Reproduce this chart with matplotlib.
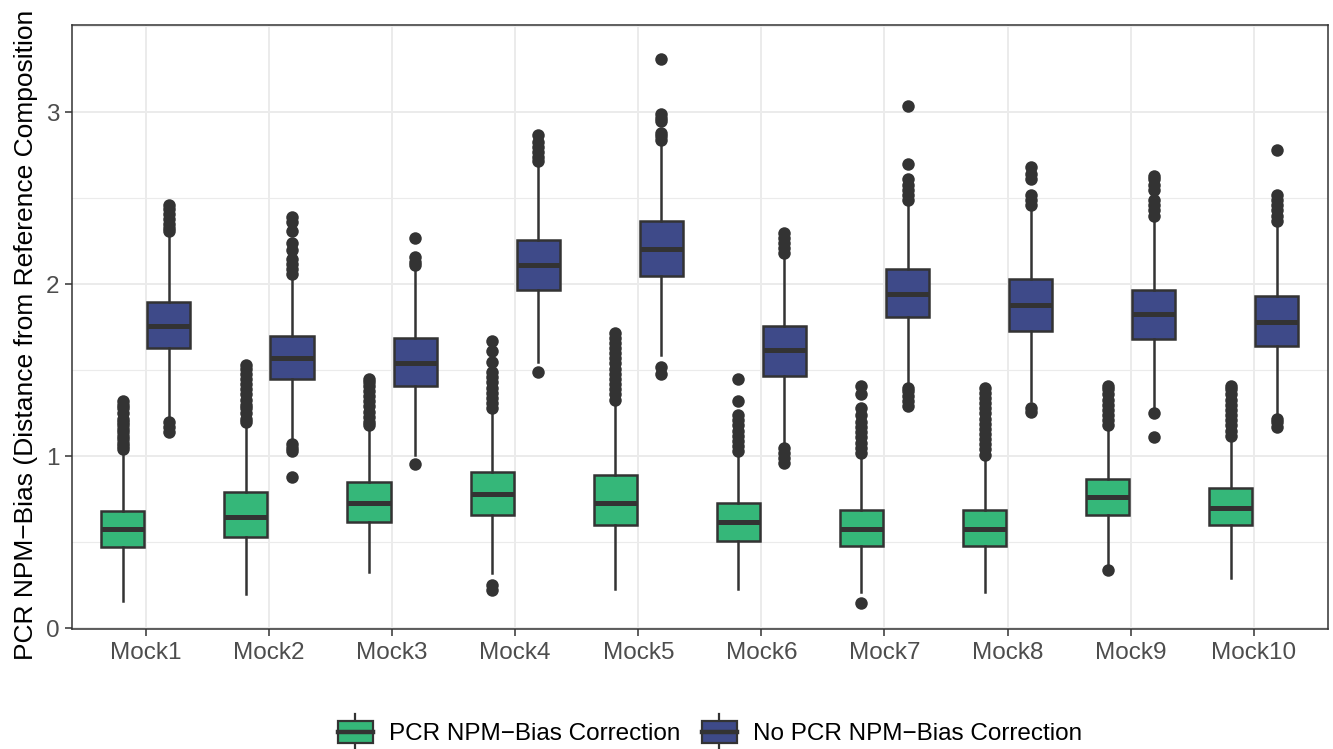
import matplotlib.pyplot as plt
import numpy as np
from matplotlib.patches import Rectangle
from matplotlib.lines import Line2D
from matplotlib.legend_handler import HandlerBase

plt.rcParams['font.family'] = ['Liberation Sans', 'DejaVu Sans']

# --- DATA --- #
mocks = ["Mock1", "Mock2", "Mock3", "Mock4", "Mock5",
         "Mock6", "Mock7", "Mock8", "Mock9", "Mock10"]
series = ["PCR NPM\u2212Bias Correction", "No PCR NPM\u2212Bias Correction"]

# PCR NPM-Bias correction (green)
corr_q1 = [0.47, 0.53, 0.62, 0.66, 0.60, 0.51, 0.48, 0.48, 0.66, 0.60]
corr_med = [0.58, 0.65, 0.73, 0.78, 0.73, 0.62, 0.58, 0.58, 0.765, 0.70]
corr_q3 = [0.685, 0.79, 0.85, 0.91, 0.89, 0.73, 0.69, 0.69, 0.87, 0.815]
corr_lo = [0.16, 0.20, 0.33, 0.32, 0.23, 0.23, 0.21, 0.21, 0.37, 0.29]
corr_hi = [1.02, 1.18, 1.16, 1.26, 1.30, 1.01, 1.00, 0.99, 1.16, 1.10]
corr_fliers = [
    [1.04, 1.06, 1.08, 1.10, 1.12, 1.14, 1.16, 1.18, 1.20, 1.22, 1.25, 1.28, 1.30, 1.32],
    [1.20, 1.22, 1.25, 1.28, 1.30, 1.33, 1.36, 1.39, 1.42, 1.45, 1.48, 1.51, 1.53],
    [1.18, 1.20, 1.23, 1.26, 1.29, 1.32, 1.35, 1.38, 1.41, 1.43, 1.45],
    [0.22, 0.25, 1.28, 1.31, 1.34, 1.37, 1.40, 1.43, 1.46, 1.49, 1.55, 1.61, 1.67],
    [1.33, 1.36, 1.39, 1.42, 1.45, 1.48, 1.51, 1.54, 1.57, 1.60, 1.63, 1.66, 1.69, 1.72],
    [1.03, 1.06, 1.09, 1.12, 1.15, 1.18, 1.21, 1.24, 1.32, 1.45],
    [0.15, 1.02, 1.05, 1.08, 1.11, 1.14, 1.17, 1.20, 1.24, 1.28, 1.36, 1.41],
    [1.01, 1.04, 1.07, 1.10, 1.13, 1.16, 1.19, 1.22, 1.25, 1.28, 1.31, 1.34, 1.37, 1.40],
    [0.34, 1.18, 1.21, 1.24, 1.27, 1.30, 1.33, 1.36, 1.39, 1.41],
    [1.12, 1.15, 1.18, 1.21, 1.24, 1.27, 1.30, 1.33, 1.36, 1.39, 1.41],
]

# No PCR NPM-Bias correction (blue)
raw_q1 = [1.63, 1.45, 1.41, 1.97, 2.05, 1.47, 1.81, 1.73, 1.68, 1.64]
raw_med = [1.76, 1.57, 1.545, 2.11, 2.205, 1.62, 1.945, 1.88, 1.83, 1.78]
raw_q3 = [1.90, 1.70, 1.69, 2.26, 2.37, 1.76, 2.09, 2.03, 1.97, 1.93]
raw_lo = [1.22, 1.09, 1.01, 1.55, 1.59, 1.06, 1.42, 1.32, 1.28, 1.24]
raw_hi = [2.29, 2.04, 2.09, 2.70, 2.81, 2.16, 2.47, 2.44, 2.37, 2.35]
raw_fliers = [
    [1.14, 1.17, 1.20, 2.31, 2.33, 2.35, 2.38, 2.41, 2.44, 2.46],
    [0.88, 1.03, 1.05, 1.07, 2.06, 2.09, 2.12, 2.15, 2.20, 2.24, 2.31, 2.36, 2.39],
    [0.955, 2.11, 2.13, 2.16, 2.27],
    [1.49, 2.72, 2.74, 2.77, 2.80, 2.83, 2.87],
    [1.48, 1.52, 2.84, 2.86, 2.88, 2.95, 2.97, 2.99, 3.31],
    [0.96, 0.99, 1.02, 1.05, 2.18, 2.21, 2.24, 2.27, 2.30],
    [1.29, 1.32, 1.35, 1.38, 1.40, 2.49, 2.52, 2.55, 2.58, 2.61, 2.70, 3.04],
    [1.26, 1.28, 2.46, 2.49, 2.52, 2.61, 2.64, 2.68],
    [1.11, 1.25, 2.40, 2.43, 2.46, 2.49, 2.55, 2.58, 2.61, 2.63],
    [1.17, 1.20, 1.22, 2.37, 2.40, 2.43, 2.46, 2.49, 2.52, 2.78],
]

colors = ["#35b779", "#3e4a89"]
dark = "#333333"

fig = plt.figure(figsize=(13.33, 7.49), dpi=100)
ax = fig.add_axes([0.054, 0.160, 0.942, 0.807])


def make_stats(q1, med, q3, lo, hi, fliers):
    out = []
    for i in range(len(q1)):
        out.append(dict(q1=q1[i], med=med[i], q3=q3[i], whislo=lo[i],
                        whishi=hi[i], fliers=fliers[i]))
    return out


x = np.arange(1, len(mocks) + 1)
groups = [
    make_stats(corr_q1, corr_med, corr_q3, corr_lo, corr_hi, corr_fliers),
    make_stats(raw_q1, raw_med, raw_q3, raw_lo, raw_hi, raw_fliers),
]
offsets = [-0.1875, 0.1875]

for stats, off, col in zip(groups, offsets, colors):
    ax.bxp(stats, positions=x + off, widths=0.35, patch_artist=True,
           showcaps=False,
           boxprops=dict(facecolor=col, edgecolor=dark, linewidth=1.8),
           medianprops=dict(color=dark, linewidth=3.6, solid_capstyle="butt"),
           whiskerprops=dict(color=dark, linewidth=1.8),
           flierprops=dict(marker="o", markerfacecolor=dark, markeredgecolor=dark,
                           markersize=9, markeredgewidth=0),
           zorder=3)

ax.set_xlim(0.4, 10.6)
ax.set_ylim(-0.005, 3.51)
ax.set_xticks(x)
ax.set_xticklabels(mocks)
ax.set_yticks([0, 1, 2, 3])
ax.set_yticks([0.5, 1.5, 2.5, 3.5], minor=True)
ax.tick_params(axis="both", which="major", labelsize=17.5, labelcolor="#4d4d4d",
               color=dark, length=5, width=1.1, pad=4)
ax.tick_params(axis="both", which="minor", length=0)
ax.grid(which="major", color="#ebebeb", linewidth=1.4, zorder=0)
ax.grid(which="minor", axis="y", color="#ebebeb", linewidth=0.8, zorder=0)
ax.set_axisbelow(True)
for sp in ax.spines.values():
    sp.set_color(dark)
    sp.set_linewidth(1.1)

# label text as shown in the source figure (no closing bracket)
ax.set_ylabel("PCR NPM\u2212Bias (Distance from Reference Composition",
              fontsize=19, color="black")
ax.yaxis.set_label_coords(-0.027, 0.487)


class BoxHandler(HandlerBase):
    def create_artists(self, legend, orig_handle, xdescent, ydescent,
                       width, height, fontsize, trans):
        col = orig_handle.get_facecolor()
        cx = width / 2 - xdescent
        box = Rectangle((-xdescent + width * 0.05, -ydescent),
                        width * 0.9, height, facecolor=col,
                        edgecolor=dark, linewidth=1.6, transform=trans)
        med = Line2D([-xdescent + width * 0.05, -xdescent + width * 0.95],
                     [-ydescent + height / 2] * 2, color=dark, linewidth=3.2,
                     transform=trans)
        wt = Line2D([cx, cx], [-ydescent + height, -ydescent + height * 1.35],
                    color=dark, linewidth=1.6, transform=trans)
        wb = Line2D([cx, cx], [-ydescent - height * 0.35, -ydescent],
                    color=dark, linewidth=1.6, transform=trans)
        return [wt, wb, box, med]


handles = [Rectangle((0, 0), 1, 1, facecolor=c) for c in colors]
fig.legend(handles, series, handler_map={Rectangle: BoxHandler()},
           loc="center", bbox_to_anchor=(0.532, 0.021), ncol=2, frameon=False,
           fontsize=17.5, handlelength=1.6, handleheight=1.0, handletextpad=0.6,
           columnspacing=0.8)

fig.savefig("out.png", dpi=100)
